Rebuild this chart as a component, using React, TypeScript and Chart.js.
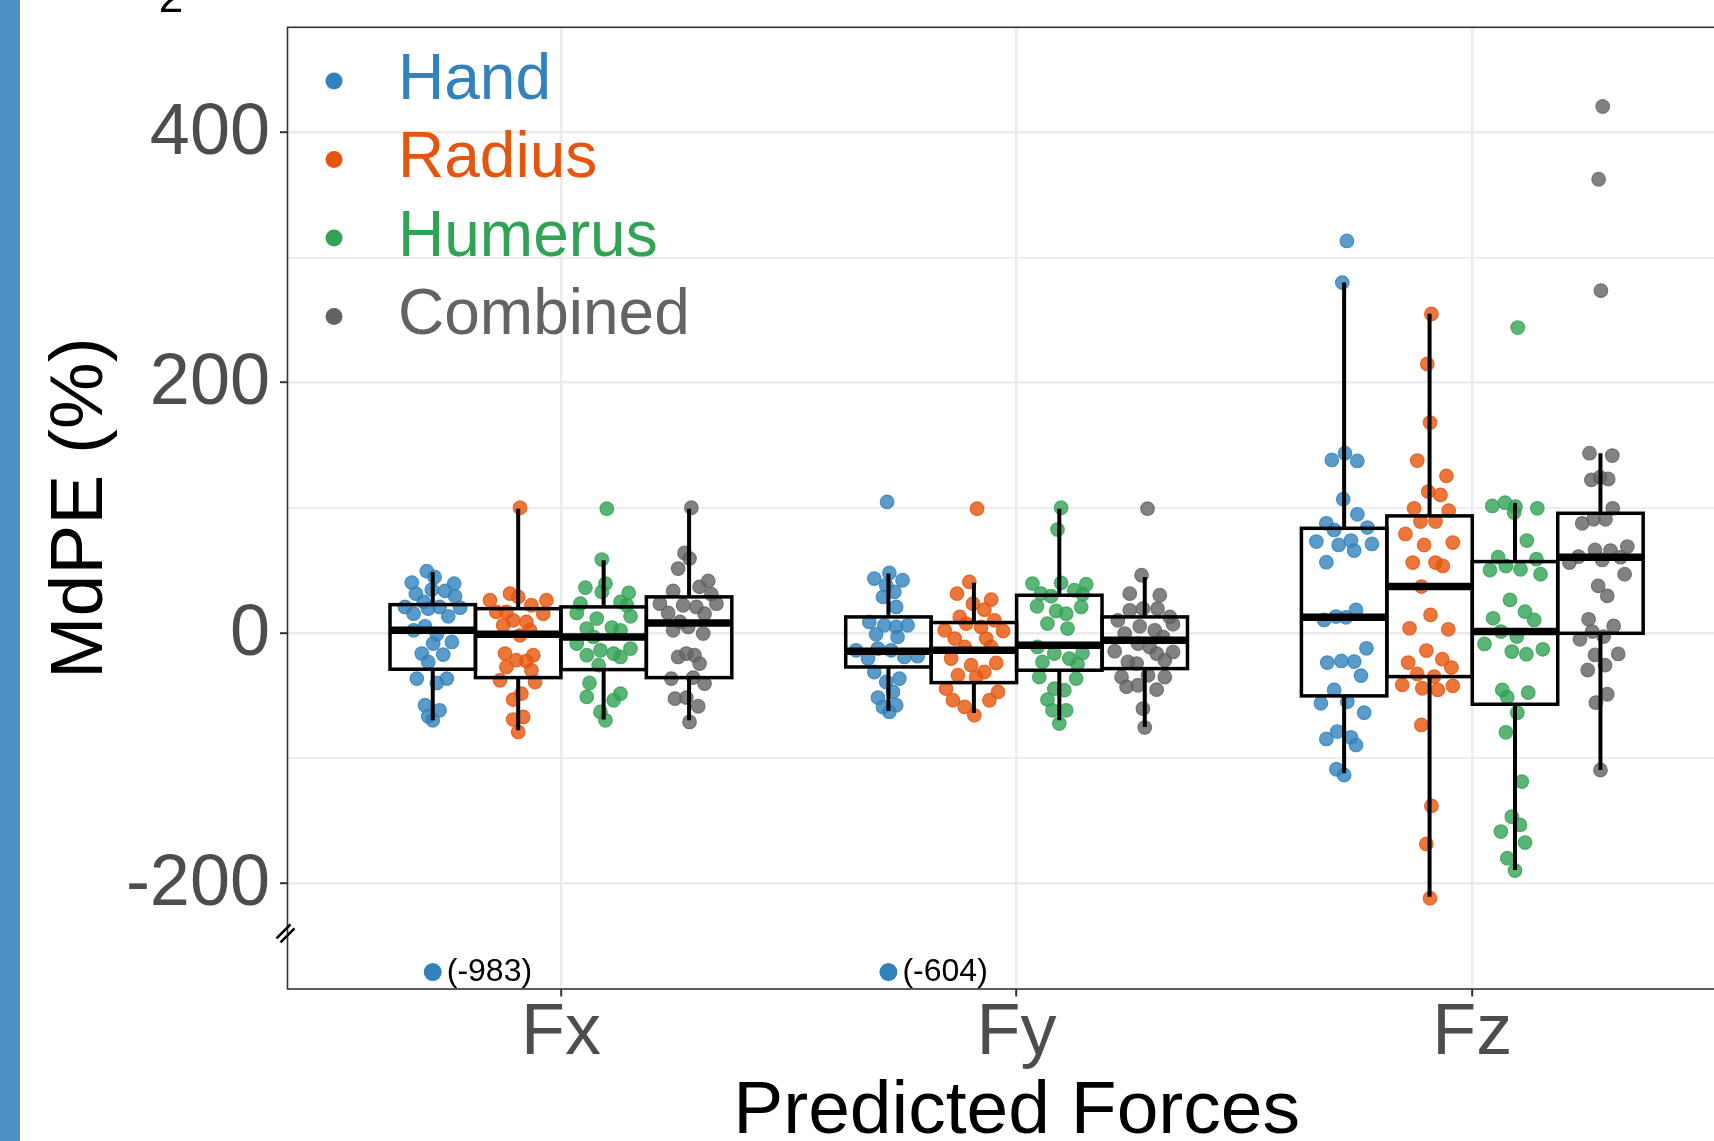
import React, { useEffect, useRef } from 'react';
import { Chart, registerables } from 'chart.js';

Chart.register(...registerables);

// ---------------- DATA ----------------
const CATEGORIES = ['Fx', 'Fy', 'Fz'];
const SERIES = ['Hand', 'Radius', 'Humerus', 'Combined'];

const Y_TICKS = [-200, -100, 0, 100, 200, 300, 400];
const Y_LABELLED = [-200, 0, 200, 400];
const Y_MIN = -284.5;
const Y_MAX = 483.9;
const X_MIN = 0.4;
const X_MAX = 3.6;

// Observed values (MdPE %) and horizontal jitter (category units) per group
const HAND_FX = [49.3, 44.7, 40.2, 39.4, 31.4, 34.6, 33.6, 29.3, 20.8, 24.8, 15.4, 19.4, 20.8, 13.3, 20.2, 5.3, 2.1, -1.1, -8.5, -7.2, -16.5, -17.3, -23.2, -36.5, -36.5, -40, -57.8, -61.8, -66.6, -69.8];
const HAND_FX_DX = [-0.013, 0.004, -0.046, 0.047, -0.037, -0.002, 0.027, 0.049, -0.061, -0.02, -0.042, -0.01, 0.015, 0.034, 0.06, -0.017, -0.042, 0.009, 0.001, 0.042, -0.024, 0.023, -0.01, -0.035, 0.031, 0.009, -0.017, 0.015, -0.01, 0];
const RADIUS_FX = [100, 31.4, 28.8, 26.1, 26.1, 22.1, 16.8, 16.8, 15.4, 10.1, 8.8, 6.1, 2.1, -1.9, -16.5, -17.8, -21.8, -22.4, -27.2, -29.8, -37.8, -39.2, -48.5, -53.3, -69.2, -67.1, -79.1];
const RADIUS_FX_DX = [0.004, -0.018, 0, -0.062, 0.062, 0.029, -0.048, -0.026, 0.055, -0.011, 0.018, -0.033, 0.026, 0.004, -0.029, 0.033, -0.004, 0.018, -0.026, 0.029, -0.04, 0.037, 0.007, -0.011, -0.011, 0.011, 0];
const HUMERUS_FX = [99.3, 58.6, 39.4, 36.2, 32.8, 32, 23.4, 24.8, 22.1, 16, 11.5, 13.3, 3.5, 4.3, 2.1, -8.5, -3.2, -13.9, -12.5, -16.5, -19.2, -17.8, -25.8, -40, -51.1, -48.5, -53.8, -63.1, -69.8];
const HUMERUS_FX_DX = [0.007, -0.004, 0.004, -0.04, -0.004, 0.055, -0.051, 0.037, 0.051, -0.059, -0.015, 0.059, -0.037, 0.018, 0.037, -0.059, -0.022, -0.007, 0.059, 0.022, 0.037, -0.037, -0.011, -0.031, -0.037, 0.037, 0.022, -0.007, 0.004];
const COMBINED_FX = [100, 63.9, 59.4, 51.4, 41.5, 36.8, 33.6, 30.9, 23.4, 22.1, 23.4, 20.8, 16, 15.4, 8.8, 4.8, 2.1, -0.5, -16.5, -17.8, -19.2, -24.5, -36.5, -35.7, -40.5, -52.5, -51.7, -58.6, -71.1];
const COMBINED_FX_DX = [0.005, -0.01, 0.001, -0.024, 0.042, 0.023, -0.035, 0.049, -0.064, -0.013, 0.06, 0.016, -0.046, 0.034, -0.02, -0.002, -0.035, 0.031, -0.006, 0.012, -0.024, 0.023, -0.039, 0.009, 0.034, -0.031, -0.006, 0.02, 0.001];

const HAND_FY = [104.7, 47.9, 43.4, 42.1, 38.1, 32.8, 28.8, 20.8, 8.8, 6.1, 4.8, 6.1, -1.1, -3.2, -13.9, -12.5, -13.9, -19.2, -18.6, -20.5, -31.2, -36.5, -39.2, -47.1, -51.7, -57.8, -59.1, -63.1];
const HAND_FY_DX = [-0.003, 0.002, -0.031, 0.031, -0.005, 0.013, -0.012, 0.017, -0.042, -0.009, 0.017, 0.042, -0.027, 0.02, -0.071, -0.023, 0.006, 0.035, 0.064, -0.045, -0.031, 0.024, -0.005, 0.01, -0.023, 0.017, -0.012, 0.002];
const RADIUS_FY = [99.3, 40.8, 31.4, 26.6, 23.4, 18.6, 12.8, 10.1, 7.5, 2.1, 4.8, 1.6, -4.5, -4.5, -11.2, -11.2, -20.5, -25.8, -24, -31.2, -33.8, -35.2, -44.5, -47.1, -53.8, -53.8, -59.1, -65.8];
const RADIUS_FY_DX = [0.007, -0.01, -0.037, 0.038, -0.002, 0.023, -0.031, 0.045, -0.017, -0.064, 0.016, 0.064, -0.042, 0.027, -0.02, 0.038, -0.05, -0.006, 0.049, 0.023, -0.035, 0.005, -0.061, 0.053, -0.046, 0.034, -0.02, 0.001];
const HUMERUS_FY = [100, 82.6, 39.4, 40, 38.9, 31.4, 34.1, 29.3, 30.9, 21.3, 20.8, 17.6, 15.4, 7.5, 3.5, -11.2, -16.5, -16, -23.2, -20.5, -25, -35.2, -36.5, -44.5, -45.8, -53.3, -61.8, -61.8, -72.4];
const HUMERUS_FY_DX = [0.004, -0.004, -0.059, 0.004, 0.059, -0.04, 0.033, -0.018, 0.051, -0.049, 0.048, -0.007, 0.015, -0.026, 0.018, -0.048, -0.011, 0.051, -0.037, 0.022, 0.04, -0.044, 0.037, -0.011, 0.011, -0.026, -0.015, 0.015, 0];
const COMBINED_FY = [99.3, 46.1, 31.4, 30.1, 19.4, 19.4, 18.1, 12.8, 10.1, 5.3, 2.1, 6.9, -0.5, -3.2, -8.5, -14.6, -11.2, -15.2, -16.5, -23.2, -21.8, -24.5, -35.2, -33.8, -35.2, -43.1, -41.8, -45.3, -60.5, -75.6];
const COMBINED_FY_DX = [0.006, -0.007, -0.033, 0.033, -0.004, 0.028, -0.033, 0.055, -0.059, -0.011, 0.022, 0.062, -0.044, 0.04, -0.015, -0.066, 0.011, 0.062, 0.026, -0.037, 0.044, -0.018, -0.051, 0.007, 0.044, -0.04, -0.015, 0.026, -0.004, 0];

const HAND_FZ = [313.2, 279.9, 138.2, 143.6, 137.4, 106.8, 94.8, 87.6, 82.3, 84.2, 73, 70.3, 73.8, 65.8, 71.1, 56.5, 10.4, 13.1, 12.5, 18.4, -12.3, -23.7, -22.4, -22.9, -34.1, -45.5, -56.2, -54.9, -63.7, -84.7, -78.8, -83.4, -89.5, -108.9, -113.5];
const HAND_FZ_DX = [0.006, -0.004, -0.027, 0.002, 0.029, -0.002, 0.029, -0.039, -0.022, 0.051, -0.061, -0.012, 0.015, 0.022, 0.061, -0.039, -0.044, -0.018, 0.004, 0.026, 0.049, -0.037, -0.006, 0.022, 0.037, -0.022, -0.051, 0.007, 0.044, -0.039, -0.015, 0.015, 0.026, -0.017, 0];
const RADIUS_FZ = [254.9, 214.9, 168.1, 137.7, 125.5, 112.9, 110.3, 99.6, 97.7, 89, 89, 79.1, 72.2, 70.3, 56.2, 56.2, 53.5, 37, 14.4, 3.7, 2.9, -14.1, -21, -23.7, -27.7, -32.8, -34.9, -41.5, -44.2, -45.5, -42.3, -73.5, -138.2, -168.6, -212];
const RADIUS_FZ_DX = [0.004, -0.005, 0.001, -0.027, 0.037, -0.003, 0.024, -0.034, 0.042, -0.02, 0.013, -0.053, 0.051, -0.012, -0.037, 0.013, 0.029, -0.018, 0.002, -0.044, 0.041, -0.007, 0.028, -0.047, 0.048, -0.027, 0.01, -0.06, -0.016, 0.018, 0.051, -0.018, 0.004, -0.007, 0.001];
const HUMERUS_FZ = [244, 104.1, 101.5, 100.9, 99.6, 96.2, 73.8, 60.5, 58.9, 50.3, 53.5, 50.9, 46.9, 26.4, 17, 10.4, 11.7, 1.1, -2.9, -8.8, -14.9, -17, -13.1, -45.5, -51.4, -47.7, -63.7, -79.4, -118.8, -146.8, -153.4, -158.7, -167.5, -180, -189.9];
const HUMERUS_FZ_DX = [0.006, -0.022, -0.05, 0.001, 0.049, -0.002, 0.026, -0.037, 0.047, -0.055, -0.02, 0.012, 0.056, -0.011, 0.022, 0.042, -0.048, -0.031, 0.004, -0.067, -0.007, 0.025, 0.061, -0.028, -0.017, 0.029, 0.005, -0.02, 0.015, -0.007, 0.011, -0.031, 0.022, -0.017, 0];
const COMBINED_FZ = [420.6, 362.5, 273.5, 143.6, 141.7, 122.3, 124.4, 123, 99.6, 87.6, 90.8, 90.8, 69, 66.3, 65.8, 56.2, 61, 58.3, 60.5, 46.9, 37.6, 29.6, 10.9, 5.6, 1.1, -5.1, -2.9, -17.6, -16.8, -25.8, -29.6, -49, -55.7, -109.5];
const COMBINED_FZ_DX = [0.005, -0.004, 0.001, -0.024, 0.026, -0.02, -0.001, 0.017, 0.027, -0.04, -0.015, 0.011, 0.059, -0.012, 0.022, -0.068, -0.048, 0.004, 0.044, 0.053, -0.005, 0.015, -0.026, 0.029, -0.018, -0.045, 0.007, -0.012, 0.039, 0.01, -0.028, 0.015, -0.01, 0];

// Box statistics per category (Fx, Fy, Fz): [lower whisker, Q1, median, Q3, upper whisker]
const HAND_BOX = [[-69.8, -29, 2.1, 22.6, 48.7], [-62.3, -27.2, -14.6, 12.8, 47.4], [-112.1, -50.3, 12.5, 83.6, 280]];
const RADIUS_BOX = [[-77.8, -35.7, -1.1, 19.4, 99.3], [-63.9, -39.7, -13.9, 8.3, 40], [-210.7, -34.9, 37, 93.5, 255]];
const HUMERUS_BOX = [[-69.2, -29.3, -3.2, 20.8, 58], [-69.8, -29.8, -9.9, 30.1, 99.3], [-189.4, -57, 1.1, 57, 104.1]];
const COMBINED_BOX = [[-69.8, -35.7, 8, 28.8, 99.3], [-75.1, -28.5, -5.9, 12.8, 44.7], [-109.5, -0.3, 60.5, 95.6, 143.6]];

// Off-scale Hand values shown below the axis break
const BREAK_VALUES = [-983, -604];
const BREAK_CATEGORY = [1, 2];
const BREAK_Y = -271;
const BREAK_MARK_Y = -240;

// ---------------- STYLE ----------------
const FONT = "'Liberation Sans', Arial, Helvetica, sans-serif";
const SOLID = ['#3182bd', '#e6550d', '#31a354', '#636363'];
const FILL = ['rgba(49,130,189,0.8)', 'rgba(230,85,13,0.8)', 'rgba(49,163,84,0.8)', 'rgba(99,99,99,0.8)'];
const GROUP_OFFSET = [-0.28125, -0.09375, 0.09375, 0.28125];
const BOX_WIDTH = 0.1875;

const CANVAS_W = 1760;
const CANVAS_H = 1141;
const PANEL_LEFT = 287.5;
const PANEL_TOP = 27.3;
const PANEL_RIGHT = 1745.7;
const PANEL_BOTTOM = 989;

const VALUES = [
  [HAND_FX, HAND_FY, HAND_FZ],
  [RADIUS_FX, RADIUS_FY, RADIUS_FZ],
  [HUMERUS_FX, HUMERUS_FY, HUMERUS_FZ],
  [COMBINED_FX, COMBINED_FY, COMBINED_FZ],
];
const JITTER = [
  [HAND_FX_DX, HAND_FY_DX, HAND_FZ_DX],
  [RADIUS_FX_DX, RADIUS_FY_DX, RADIUS_FZ_DX],
  [HUMERUS_FX_DX, HUMERUS_FY_DX, HUMERUS_FZ_DX],
  [COMBINED_FX_DX, COMBINED_FY_DX, COMBINED_FZ_DX],
];
const BOXES = [HAND_BOX, RADIUS_BOX, HUMERUS_BOX, COMBINED_BOX];

function buildDatasets() {
  const sets: any[] = SERIES.map((name, s) => {
    const data: any[] = [];
    CATEGORIES.forEach((_, c) => {
      VALUES[s][c].forEach((v, i) => {
        data.push({ x: c + 1 + GROUP_OFFSET[s] + JITTER[s][c][i], y: v });
      });
    });
    return {
      label: name,
      data,
      backgroundColor: FILL[s],
      borderColor: FILL[s],
      borderWidth: 1.2,
      pointRadius: 6.8,
      pointHoverRadius: 6.8,
    };
  });
  sets.push({
    label: 'off-scale',
    data: BREAK_CATEGORY.map((c) => ({ x: c + GROUP_OFFSET[0], y: BREAK_Y })),
    backgroundColor: SOLID[0],
    borderColor: SOLID[0],
    borderWidth: 0,
    pointRadius: 9,
    pointHoverRadius: 9,
  });
  return sets;
}

const decorPlugin = {
  id: 'mdpeDecor',
  beforeDraw(chart: any) {
    const { ctx } = chart;
    ctx.save();
    ctx.fillStyle = '#ffffff';
    ctx.fillRect(0, 0, chart.width, chart.height);
    ctx.restore();
  },
  afterDatasetsDraw(chart: any) {
    const { ctx } = chart;
    const xs = chart.scales.x;
    const ys = chart.scales.y;
    ctx.save();
    ctx.strokeStyle = '#000000';
    BOXES.forEach((box, s) => {
      box.forEach((st, c) => {
        const [lo, q1, med, q3, hi] = st;
        const cx = c + 1 + GROUP_OFFSET[s];
        const xl = xs.getPixelForValue(cx - BOX_WIDTH / 2);
        const xr = xs.getPixelForValue(cx + BOX_WIDTH / 2);
        const xm = xs.getPixelForValue(cx);
        // whiskers
        ctx.lineWidth = 4;
        ctx.lineCap = 'butt';
        ctx.beginPath();
        ctx.moveTo(xm, ys.getPixelForValue(hi));
        ctx.lineTo(xm, ys.getPixelForValue(q3));
        ctx.moveTo(xm, ys.getPixelForValue(q1));
        ctx.lineTo(xm, ys.getPixelForValue(lo));
        ctx.stroke();
        // box
        ctx.lineWidth = 3.5;
        ctx.lineJoin = 'miter';
        const yt = ys.getPixelForValue(q3);
        const yb = ys.getPixelForValue(q1);
        ctx.strokeRect(xl, yt, xr - xl, yb - yt);
        // median
        ctx.lineWidth = 7.5;
        ctx.beginPath();
        ctx.moveTo(xl, ys.getPixelForValue(med));
        ctx.lineTo(xr, ys.getPixelForValue(med));
        ctx.stroke();
      });
    });
    ctx.restore();
  },
  afterDraw(chart: any) {
    const { ctx, chartArea } = chart;
    const xs = chart.scales.x;
    const ys = chart.scales.y;
    ctx.save();
    // panel border
    ctx.strokeStyle = '#333333';
    ctx.lineWidth = 1.6;
    ctx.strokeRect(chartArea.left, chartArea.top, chartArea.right - chartArea.left, chartArea.bottom - chartArea.top);

    // off-scale labels
    ctx.fillStyle = '#000000';
    ctx.font = `32px ${FONT}`;
    ctx.textAlign = 'left';
    ctx.textBaseline = 'alphabetic';
    BREAK_VALUES.forEach((v, i) => {
      const px = xs.getPixelForValue(BREAK_CATEGORY[i] + GROUP_OFFSET[0]);
      const py = ys.getPixelForValue(BREAK_Y);
      ctx.fillText(`(${v})`, px + 14, py + 8.5);
    });

    // axis break mark
    const bx = chartArea.left;
    const by = ys.getPixelForValue(BREAK_MARK_Y);
    ctx.strokeStyle = '#000000';
    ctx.lineWidth = 2.6;
    ctx.beginPath();
    ctx.moveTo(bx - 11, by + 5);
    ctx.lineTo(bx + 3, by - 9);
    ctx.moveTo(bx - 7, by + 9);
    ctx.lineTo(bx + 7, by - 5);
    ctx.stroke();

    // left blue strip and clipped glyph at the top edge
    ctx.fillStyle = '#4b91c5';
    ctx.fillRect(0, 0, 20, chart.height);
    ctx.fillStyle = '#000000';
    ctx.font = `44px ${FONT}`;
    ctx.textAlign = 'center';
    ctx.fillText('2', 171, 12);
    ctx.restore();
  },
};

export default function App() {
  const ref = useRef<HTMLCanvasElement>(null);

  useEffect(() => {
    const canvas = ref.current;
    if (!canvas) return;
    const chart = new Chart(canvas, {
      type: 'scatter',
      data: { datasets: buildDatasets() },
      plugins: [decorPlugin],
      options: {
        animation: false,
        responsive: false,
        devicePixelRatio: 1,
        events: [],
        layout: { padding: { left: 0, right: CANVAS_W - PANEL_RIGHT, top: PANEL_TOP, bottom: 0 } },
        plugins: {
          tooltip: { enabled: false },
          legend: {
            position: 'chartArea',
            align: 'start',
            title: { display: true, text: ' ', font: { size: 1, lineHeight: 1 }, padding: { top: 33.5, bottom: 0 } },
            labels: {
              usePointStyle: true,
              pointStyle: 'circle',
              boxWidth: 64,
              boxHeight: 12,
              padding: 14.5,
              font: { family: FONT, size: 64 },
              generateLabels: () =>
                SERIES.map((name, i) => ({
                  text: name,
                  fillStyle: SOLID[i],
                  strokeStyle: SOLID[i],
                  lineWidth: 0,
                  pointStyle: 'circle',
                  fontColor: SOLID[i],
                  hidden: false,
                  datasetIndex: i,
                })),
            },
          },
        },
        scales: {
          x: {
            type: 'linear',
            min: X_MIN,
            max: X_MAX,
            afterBuildTicks: (s: any) => {
              s.ticks = CATEGORIES.map((_, i) => ({ value: i + 1 }));
            },
            afterFit: (s: any) => {
              s.height = CANVAS_H - PANEL_BOTTOM;
              s.paddingLeft = 0;
              s.paddingRight = 0;
            },
            ticks: {
              autoSkip: false,
              maxRotation: 0,
              padding: 2,
              color: '#4d4d4d',
              font: { family: FONT, size: 72, lineHeight: 1 },
              callback: (v: any) => CATEGORIES[Math.round(Number(v)) - 1] ?? '',
            },
            grid: {
              color: '#ebebeb',
              lineWidth: 2.4,
              drawTicks: true,
              tickLength: 7.5,
              tickColor: '#333333',
              tickWidth: 2,
            },
            border: { display: false },
            title: {
              display: true,
              text: 'Predicted Forces',
              color: '#000000',
              font: { family: FONT, size: 75, lineHeight: 1 },
              padding: { top: 0, bottom: -9 },
            },
          },
          y: {
            type: 'linear',
            min: Y_MIN,
            max: Y_MAX,
            afterBuildTicks: (s: any) => {
              s.ticks = Y_TICKS.map((v) => ({ value: v }));
            },
            afterFit: (s: any) => {
              s.width = PANEL_LEFT;
              s.paddingTop = 0;
              s.paddingBottom = 0;
            },
            ticks: {
              autoSkip: false,
              padding: 10,
              labelOffset: 2,
              color: '#4d4d4d',
              font: { family: FONT, size: 72, lineHeight: 1 },
              callback: (v: any) => (Y_LABELLED.includes(Number(v)) ? String(v) : ''),
            },
            grid: {
              color: '#ebebeb',
              lineWidth: (c: any) => (Y_LABELLED.includes(c.tick?.value) ? 2.4 : 1.8),
              drawTicks: true,
              tickLength: 7.5,
              tickColor: (c: any) => (Y_LABELLED.includes(c.tick?.value) ? '#333333' : 'rgba(0,0,0,0)'),
              tickWidth: 2,
            },
            border: { display: false },
            title: {
              display: true,
              text: 'MdPE (%)',
              color: '#000000',
              font: { family: FONT, size: 75, lineHeight: 1 },
              padding: { top: 43.5, bottom: 0 },
            },
          },
        },
      } as any,
    });
    return () => chart.destroy();
  }, []);

  return (
    <div
      style={{
        position: 'fixed',
        left: 0,
        top: 0,
        width: 1714,
        height: 1141,
        overflow: 'hidden',
        background: '#ffffff',
      }}
    >
      <canvas
        ref={ref}
        width={CANVAS_W}
        height={CANVAS_H}
        style={{ display: 'block', width: CANVAS_W, height: CANVAS_H }}
      />
    </div>
  );
}
